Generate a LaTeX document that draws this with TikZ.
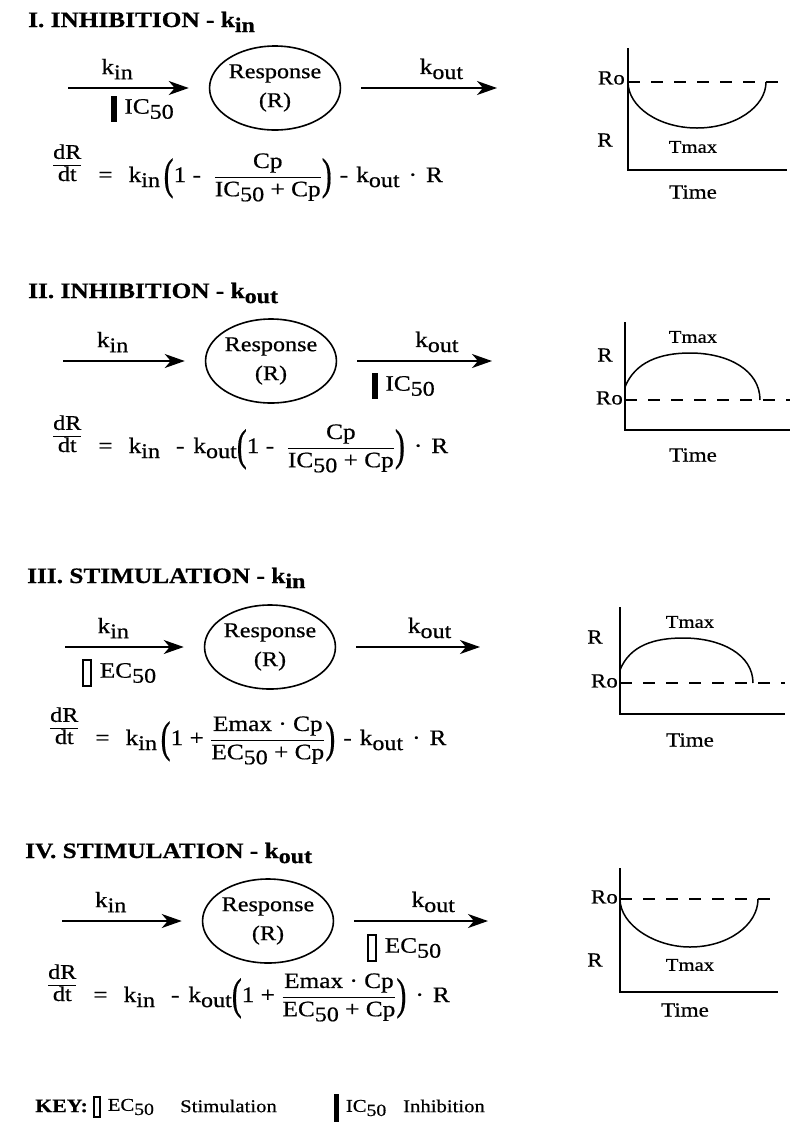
\documentclass[tikz,border=0pt]{standalone}
\usepackage{fontspec}
\setmainfont{Liberation Serif}[FakeStretch=1.15, FakeBold=0.6]
\usepackage{graphicx}
\usetikzlibrary{arrows.meta, shapes.geometric, positioning}
\newcommand{\lo}[1]{\raisebox{-0.5ex}{\scalebox{0.95}{#1}}}
\newcommand{\fsz}[1]{\fontsize{#1}{#1}\selectfont}
\newcommand{\fr}[2]{$\displaystyle\frac{\mbox{#1}}{\mbox{#2}}$}
\newcommand{\drdt}{\raisebox{1pt}{\fsz{21}\setlength\arrayrulewidth{1.1pt}%
  \begin{tabular}[b]{@{}c@{}}dR\\\hline dt\end{tabular}}}
\newcommand{\eqs}{\hspace{17pt}=\hspace{16pt}}
\newcommand{\bigp}[1]{\raisebox{-7pt}{\scalebox{1}[1.7]{\fsz{26}#1}}}

\begin{document}
\begin{tikzpicture}[x=1pt, y=-1pt, every node/.style={font=\fsz{22}, inner sep=0pt}]
        \tikzset{
          title/.style={font=\fsz{22}\bfseries, anchor=base west},
          resp/.style={ellipse, draw, line width=1.6pt, minimum width=124pt,
                       minimum height=84pt, align=center,
                       font=\fontsize{21}{29}\selectfont},
          flow/.style={line width=1.6pt, shorten >=20pt, shorten <=20pt,
                       -{Stealth[length=20pt, width=14pt, inset=6pt]}},
          lblin/.style={above=8pt, pos=0.43},
          lblout/.style={above=8pt, pos=0.57},
          icbar/.style={fill=black, minimum width=6pt, minimum height=26pt},
          ecbox/.style={draw, line width=1.2pt, minimum width=8pt, minimum height=26pt},
          eqn/.style={anchor=base west},
          axis/.style={line width=1.5pt},
          base/.style={line width=1.5pt, dash pattern=on 12pt off 11pt},
          curve/.style={line width=1.5pt},
          tlab/.style={font=\fsz{18}},
          glab/.style={font=\fsz{20}},
          keytxt/.style={font=\fsz{18}}
        }
        \useasboundingbox (0,0) rectangle (792,1144);

        % I. inhibition of kin
        \node[title] (t1) at (28,27) {I.\ INHIBITION - k\lo{in}};
        \node[resp] (resp1) at (275,88) {Response\\(R)};
        \coordinate (in1) at (48,88);
        \coordinate (out1) at (517,88);
        \draw[flow] (in1) -- node[lblin]{k\lo{in}} (resp1);
        \draw[flow] (resp1) -- node[lblout]{k\lo{out}} (out1);
        \node[icbar] (ic1) at (114,109) {};
        \node[right=7pt of ic1] {IC\lo{50}};
        \node[eqn] (eq1) at (53,182) {\drdt\eqs k\lo{in}\,\bigp{(}1\ -\ \ \fr{Cp}{IC\lo{50} + Cp}\bigp{)}\hspace{8pt}-\hspace{8pt}k\lo{out}\hspace{9pt}·\hspace{9pt}R};

        \draw[axis] (628,48) -- (628,170) -- (787,170);
        \draw[base] (628,82) -- (787,82);
        \draw[curve] (628,82) .. controls (628,107) and (659,128) .. (697,128)
                     .. controls (735,128) and (766,107) .. (766,82);
        \node[glab, anchor=east] (ro1) at (625,78) {Ro};
        \node[glab] (r1) at (605,140) {R};
        \node[tlab] (tm1) at (693,147) {Tmax};
        \node[glab] (time1) at (693,192) {Time};

        % II. inhibition of kout
        \node[title] (t2) at (28,298) {II.\ INHIBITION - k\lo{out}};
        \node[resp] (resp2) at (271,361) {Response\\(R)};
        \coordinate (in2) at (43,361);
        \coordinate (out2) at (512,361);
        \draw[flow] (in2) -- node[lblin]{k\lo{in}} (resp2);
        \draw[flow] (resp2) -- node[lblout]{k\lo{out}} (out2);
        \node[icbar] (ic2) at (375,386) {};
        \node[right=7pt of ic2] {IC\lo{50}};
        \node[eqn] (eq2) at (53,453) {\drdt\eqs k\lo{in}\hspace{16pt}-\hspace{9pt}k\lo{out}\bigp{(}1\ -\ \ \fr{Cp}{IC\lo{50} + Cp}\bigp{)}\hspace{9pt}·\hspace{9pt}R};

        \draw[axis] (625,322) -- (625,430) -- (790,430);
        \draw[base] (625,400) -- (790,400);
        \draw[curve] (625,387) .. controls (635,362) and (660,353) .. (690,353)
                     .. controls (728,353) and (760,370) .. (760,400);
        \node[glab, anchor=east] (ro2) at (623,398) {Ro};
        \node[glab] (r2) at (605,355) {R};
        \node[tlab] (tm2) at (693,337) {Tmax};
        \node[glab] (time2) at (693,455) {Time};

        % III. stimulation of kin
        \node[title] (t3) at (27,583) {III.\ STIMULATION - k\lo{in}};
        \node[resp] (resp3) at (270,647) {Response\\(R)};
        \coordinate (in3) at (45,647);
        \coordinate (out3) at (500,647);
        \draw[flow] (in3) -- node[lblin]{k\lo{in}} (resp3);
        \draw[flow] (resp3) -- node[lblout]{k\lo{out}} (out3);
        \node[ecbox] (ec3) at (87,673) {};
        \node[right=8pt of ec3] {EC\lo{50}};
        \node[eqn] (eq3) at (50,745) {\drdt\eqs k\lo{in}\,\bigp{(}1 + \fr{Emax · Cp}{EC\lo{50} + Cp}\bigp{)}\hspace{8pt}-\hspace{8pt}k\lo{out}\hspace{9pt}·\hspace{9pt}R};

        \draw[axis] (620,607) -- (620,714) -- (785,714);
        \draw[base] (620,683) -- (785,683);
        \draw[curve] (620,670) .. controls (630,645) and (655,638) .. (683,638)
                     .. controls (722,638) and (753,655) .. (753,683);
        \node[glab, anchor=east] (ro3) at (618,681) {Ro};
        \node[glab] (r3) at (595,637) {R};
        \node[tlab] (tm3) at (690,622) {Tmax};
        \node[glab] (time3) at (690,740) {Time};

        % IV. stimulation of kout
        \node[title] (t4) at (25,858) {IV.\ STIMULATION - k\lo{out}};
        \node[resp] (resp4) at (268,921) {Response\\(R)};
        \coordinate (in4) at (42,921);
        \coordinate (out4) at (508,921);
        \draw[flow] (in4) -- node[lblin]{k\lo{in}} (resp4);
        \draw[flow] (resp4) -- node[lblout]{k\lo{out}} (out4);
        \node[ecbox] (ec4) at (372,948) {};
        \node[right=8pt of ec4] {EC\lo{50}};
        \node[eqn] (eq4) at (48,1002) {\drdt\eqs k\lo{in}\hspace{16pt}-\hspace{9pt}k\lo{out}\bigp{(}1 + \fr{Emax · Cp}{EC\lo{50} + Cp}\bigp{)}\hspace{9pt}·\hspace{9pt}R};

        \draw[axis] (620,868) -- (620,992) -- (778,992);
        \draw[base] (620,899) -- (778,899);
        \draw[curve] (620,899) .. controls (620,925) and (655,947) .. (690,947)
                     .. controls (728,947) and (758,925) .. (758,899);
        \node[glab, anchor=east] (ro4) at (618,897) {Ro};
        \node[glab] (r4) at (595,960) {R};
        \node[tlab] (tm4) at (690,965) {Tmax};
        \node[glab] (time4) at (685,1010) {Time};

        % key
        \node[anchor=west, font=\fsz{19}\bfseries] (key) at (35,1106) {KEY:};
        \node[ecbox, minimum width=6pt, minimum height=20pt] (kec) at (97,1107) {};
        \node[keytxt, right=7pt of kec] (kect) {EC\lo{50}};
        \node[keytxt, anchor=west] (stim) at (180,1106) {Stimulation};
        \node[icbar, minimum width=5pt, minimum height=28pt] (kic) at (336,1108) {};
        \node[keytxt, right=7pt of kic] (kict) {IC\lo{50}};
        \node[keytxt, anchor=west] (inh) at (403,1106) {Inhibition};
      \end{tikzpicture}
\end{document}
